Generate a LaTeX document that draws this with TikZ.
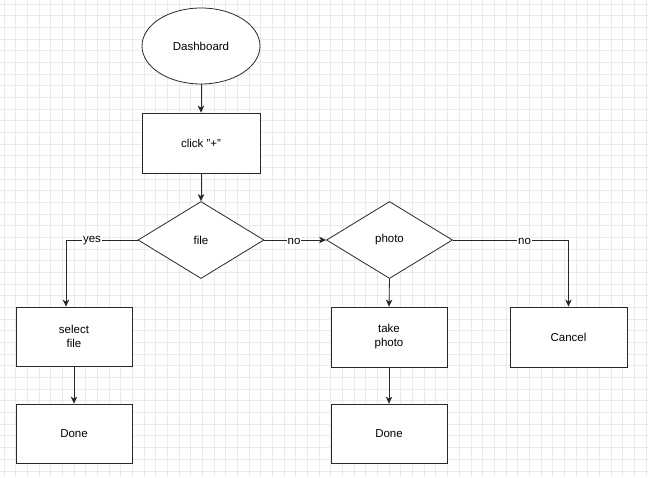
\documentclass[tikz,border=0pt]{standalone}
\usepackage{fontspec}
\setmainfont{Liberation Sans}
\usetikzlibrary{shapes.geometric,arrows.meta}
\definecolor{gridc}{RGB}{234,234,234}
\definecolor{linec}{RGB}{40,40,40}
\tikzset{
  every node/.style={font=\fontsize{11.5}{14}\selectfont, text=black},
  boxnode/.style={draw=linec, line width=0.8pt, fill=white, rectangle, inner sep=0pt, align=center},
  decnode/.style={draw=linec, line width=0.8pt, fill=white, diamond, inner sep=0pt, minimum width=126pt, minimum height=77pt},
  ovalnode/.style={draw=linec, line width=0.8pt, fill=white, ellipse, inner sep=0pt, minimum width=118pt, minimum height=76pt},
  conn/.style={draw=linec, line width=0.8pt, -{Stealth[length=7pt,width=6.5pt,inset=2pt]}},
  lbl/.style={fill=white, inner sep=1pt}
}
\begin{document}
\begin{tikzpicture}[x=1pt,y=-1pt]
\useasboundingbox (0,0) rectangle (648,477);
\fill[white] (0,0) rectangle (648,477);
% grid
\foreach \i in {0,...,55} {
  \draw[gridc, line width=0.6pt] ({4+11.67*\i},0) -- ({4+11.67*\i},477);
}
\foreach \i in {0,...,40} {
  \draw[gridc, line width=0.6pt] (0,{4+11.67*\i}) -- (648,{4+11.67*\i});
}
% nodes
\node[ovalnode] (dash) at (201,46) {Dashboard};
\node[boxnode, minimum width=118pt, minimum height=60pt] (click) at (201,143) {click "+"};
\node[decnode] (file) at (201,240) {file};
\node[decnode] (photo) at (389.5,240) {photo};
\node[boxnode, minimum width=116pt, minimum height=59pt] (select) at (74,336.5) {select\\file};
\node[boxnode, minimum width=116pt, minimum height=60pt] (take) at (389,337) {take\\photo};
\node[boxnode, minimum width=117pt, minimum height=60pt] (cancel) at (568.5,337) {Cancel};
\node[boxnode, minimum width=116pt, minimum height=59pt] (done1) at (74,433.5) {Done};
\node[boxnode, minimum width=116pt, minimum height=59pt] (done2) at (389,433.5) {Done};
% coordinates for bends
\coordinate (b1) at (66,240);
\coordinate (b2) at (568.5,240);
% connectors
\draw[conn] (dash) -- (click);
\draw[conn] (click) -- (file);
\draw[conn] (file.west) -- (b1) -- (b1 |- select.north);
\draw[conn] (file.east) -- (photo.west);
\draw[conn] (photo.south) -- (take.north);
\draw[conn] (photo.east) -- (b2) -- (cancel.north);
\draw[conn] (select) -- (done1);
\draw[conn] (take) -- (done2);
% labels
\node[lbl] (lyes) at (92,241) {yes};
\node[lbl] (lno1) at (294,241.5) {no};
\node[lbl] (lno2) at (524.5,241) {no};
\end{tikzpicture}
\end{document}
